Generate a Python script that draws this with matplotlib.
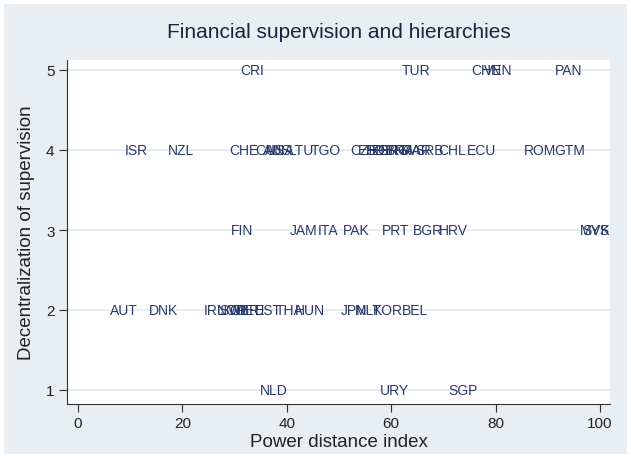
import matplotlib
matplotlib.use("Agg")
import matplotlib.pyplot as plt
from matplotlib.patches import Rectangle

# country codes, power distance (x) and decentralization of supervision (y)
codes = ["CRI", "TUR", "CHN", "VEN", "PAN",
         "ISR", "NZL", "CHE", "CAN", "AUS", "USA", "LTU", "TGO",
         "CZE", "ESP", "POL", "PER", "GRC", "BRA", "FRA", "MAR", "SRB",
         "CHL", "ECU", "ROM", "GTM",
         "FIN", "JAM", "ITA", "PAK", "PRT", "BGR", "HRV", "MYS", "SVK",
         "AUT", "DNK", "IRL", "NOR", "SWE", "GBR", "DEU", "EST", "THA",
         "HUN", "JPN", "MLT", "KOR", "BEL",
         "NLD", "URY", "SGP"]
power_distance = [33.3, 64.8, 78.2, 80.5, 93.9,
                  11.1, 19.7, 31.8, 36.8, 38.1, 38.7, 42.9, 47.5,
                  54.8, 56.3, 57.9, 59.0, 60.2, 61.7, 63.2, 64.8, 67.4,
                  71.6, 77.4, 88.5, 94.2,
                  31.4, 43.3, 47.9, 53.4, 60.9, 67.0, 71.9, 99.0, 99.2,
                  8.8, 16.3, 26.2, 29.5, 30.1, 31.8, 33.0, 36.4, 40.6,
                  44.4, 52.9, 55.6, 59.4, 64.6,
                  37.5, 60.7, 73.8]
decentral = [5, 5, 5, 5, 5,
             4, 4, 4, 4, 4, 4, 4, 4,
             4, 4, 4, 4, 4, 4, 4, 4, 4,
             4, 4, 4, 4,
             3, 3, 3, 3, 3, 3, 3, 3, 3,
             2, 2, 2, 2, 2, 2, 2, 2, 2,
             2, 2, 2, 2, 2,
             1, 1, 1]

x_ticks = [0, 20, 40, 60, 80, 100]
y_ticks = [1, 2, 3, 4, 5]

navy = "#28396a"
bluish = "#e8eef1"
grid_col = "#e3eaed"

plt.rcParams["font.family"] = ["Liberation Sans", "DejaVu Sans"]

W, H = 631, 460
fig = plt.figure(figsize=(W / 100, H / 100), dpi=100)
fig.patch.set_facecolor("white")
# graph region (behind the axes)
fig.patches.append(Rectangle((4 / W, 5 / H), 623 / W, 450 / H,
                             transform=fig.transFigure, facecolor=bluish,
                             edgecolor="none", zorder=-10))

left, right, top, bottom = 67, 610, 61, 405
ax = fig.add_axes([left / W, 1 - bottom / H, (right - left) / W, (bottom - top) / H])
ax.set_facecolor("white")

px_per_x = 5.22
x0_px = 78
ax.set_xlim((left - x0_px) / px_per_x, (right - x0_px) / px_per_x)
px_per_y = 80
ax.set_ylim(5 - (bottom - 71) / px_per_y, 5 + (71 - top) / px_per_y)

for yv in y_ticks:
    ax.axhline(yv, color=grid_col, lw=1.2, zorder=1)

for c, xv, yv in zip(codes, power_distance, decentral):
    ax.text(xv, yv, c, ha="center", va="center", color=navy, fontsize=10,
            zorder=3)

ax.set_xticks(x_ticks)
ax.set_yticks(y_ticks)
ax.tick_params(axis="both", length=6, width=0.8, color="#333333",
               labelsize=11, labelcolor="#222222")
ax.tick_params(axis="x", pad=3)
ax.tick_params(axis="y", pad=3)
for s in ["top", "right"]:
    ax.spines[s].set_visible(False)
for s in ["left", "bottom"]:
    ax.spines[s].set_color("#333333")
    ax.spines[s].set_linewidth(0.8)

ax.set_xlabel("Power distance index", fontsize=13.5, color="#222222", labelpad=2)
ax.set_ylabel("Decentralization of supervision", fontsize=13.5, color="#222222",
              labelpad=8)
fig.text(left / W + (right - left) / W / 2, 1 - 32 / H,
         "Financial supervision and hierarchies", ha="center",
         va="center", fontsize=15, color="#1c2340")

fig.savefig("out.png", dpi=100, facecolor=fig.get_facecolor())
